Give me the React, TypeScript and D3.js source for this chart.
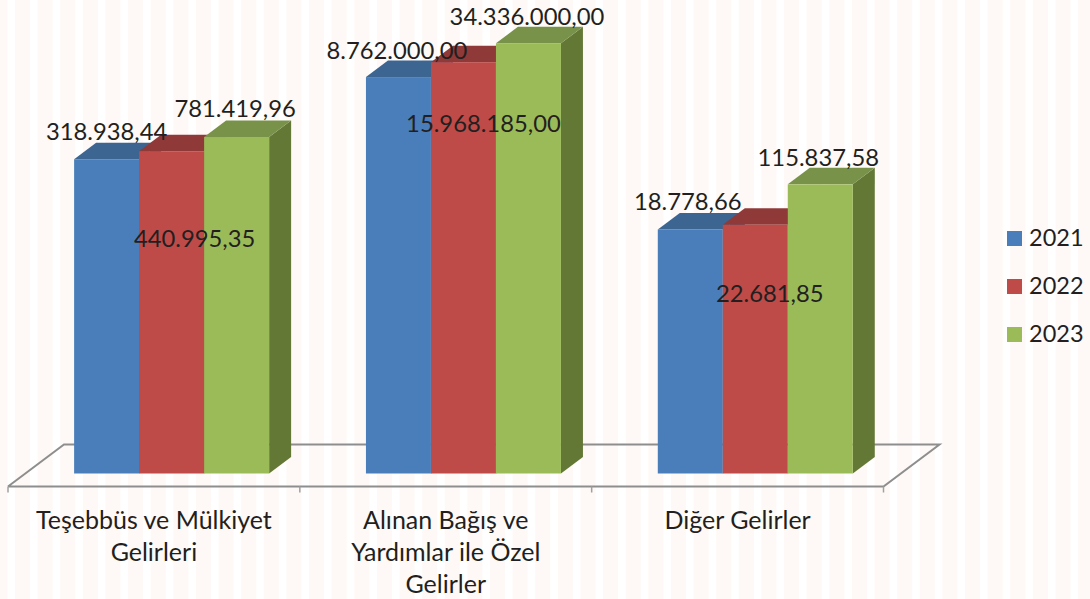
import React from "react";
import * as d3 from "d3";

const categories = [
  ["Teşebbüs ve Mülkiyet", "Gelirleri"],
  ["Alınan Bağış ve", "Yardımlar ile Özel", "Gelirler"],
  ["Diğer Gelirler"],
];
const years = ["2021", "2022", "2023"];
const values2021 = [318938.44, 8762000.0, 18778.66];
const values2022 = [440995.35, 15968185.0, 22681.85];
const values2023 = [781419.96, 34336000.0, 115837.58];
const series = [values2021, values2022, values2023];

const frontColor = ["#4a7ebb", "#be4b48", "#9bbb59"];
const topColor = ["#3c6591", "#8f3a38", "#78924a"];
const sideColor = ["#345a85", "#843432", "#647836"];

// labels were moved by hand in the original: offset from bar centre / bar top
const labelDx = [
  [0, -1.5, -2.5],
  [23, 20, 14.5],
  [-1.5, -1.5, -2],
];
const labelDy = [
  [-19.5, -18, -19.5],
  [96, 70, 77],
  [-19.6, -18, -18.6],
];

const width = 1090;
const height = 599;
const depthX = 22;
const depthY = 16.5;
const floorY = 486.5;
const floorDepthX = 56;
const floorDepthY = 42;
const barBase = 473.5;
const barW = 65;
const font = "Lato, Carlito, sans-serif";

const trFormat = d3.formatLocale({
  decimal: ",",
  thousands: ".",
  grouping: [3],
  currency: ["", " TL"],
}).format(",.2f");

const x = d3
  .scaleBand<number>()
  .domain(categories.map((_, i) => i))
  .range([8, 883.5]);
const inner = d3
  .scaleBand<number>()
  .domain(years.map((_, i) => i))
  .range([-barW * 1.5, barW * 1.5]);
const y = d3
  .scaleLog()
  .domain([1, 1e8])
  .range([barBase, barBase - 8 * 57.1]);

const poly = d3.line();

const App = () => {
  const stripes = d3.range(7.4, width, 22.62);
  const ticks = d3.range(categories.length + 1).map((i) => 8 + i * x.step());

  return (
    <svg
      width={width}
      height={height}
      style={{ position: "absolute", left: 0, top: 0, display: "block" }}
      fontFamily={font}
    >
      <rect width={width} height={height} fill="#fef9f6" />
      {stripes.map((s) => (
        <rect key={s} x={s} y={0} width={7.6} height={height} fill="#ffffff" />
      ))}

      {/* floor */}
      <path
        d={poly([
          [ticks[0], floorY],
          [ticks[0] + floorDepthX, floorY - floorDepthY],
          [ticks[3] + floorDepthX, floorY - floorDepthY],
          [ticks[3], floorY],
          [ticks[0], floorY],
        ])!}
        fill="none"
        stroke="#8e8e8e"
        strokeWidth={2}
      />
      {ticks.map((t) => (
        <line key={t} x1={t} x2={t} y1={floorY} y2={floorY + 6} stroke="#a0a0a0" strokeWidth={1.5} />
      ))}

      {/* bars */}
      {categories.map((_, c) => {
        const cx = x(c)! + x.bandwidth() / 2 + 17.7;
        return (
          <g key={c}>
            {series.map((vals, s) => {
              const x0 = cx + inner(s)!;
              const x1 = x0 + barW;
              const top = y(vals[c]);
              return (
                <g key={s}>
                  <path
                    d={poly([
                      [x1, barBase],
                      [x1 + depthX, barBase - depthY],
                      [x1 + depthX, top - depthY],
                      [x1, top],
                    ])!}
                    fill={sideColor[s]}
                  />
                  <path
                    d={poly([
                      [x0, top],
                      [x0 + depthX, top - depthY],
                      [x1 + depthX, top - depthY],
                      [x1, top],
                    ])!}
                    fill={topColor[s]}
                  />
                  <rect x={x0} y={top} width={barW} height={barBase - top} fill={frontColor[s]} />
                </g>
              );
            })}
          </g>
        );
      })}

      {/* data labels on top of all bars */}
      {categories.map((_, c) => {
        const cx = x(c)! + x.bandwidth() / 2 + 17.7;
        return series.map((vals, s) => (
          <text
            key={`${c}-${s}`}
            x={cx + inner(s)! + barW / 2 + labelDx[s][c]}
            y={y(vals[c]) + labelDy[s][c]}
            textAnchor="middle"
            fontSize={23.8}
            fill="#231f20"
          >
            {trFormat(vals[c])}
          </text>
        ));
      })}

      {/* category labels */}
      {categories.map((lines, c) => (
        <text key={c} textAnchor="middle" fontSize={25} fill="#231f20">
          {lines.map((l, i) => (
            <tspan key={i} x={x(c)! + x.bandwidth() / 2} y={528.5 + i * 32}>
              {l}
            </tspan>
          ))}
        </text>
      ))}

      {/* legend */}
      {years.map((yr, i) => (
        <g key={yr} transform={`translate(1007, ${231 + i * 48})`}>
          <rect width={15} height={15} fill={frontColor[i]} />
          <text x={22} y={15} fontSize={23.5} fill="#231f20">
            {yr}
          </text>
        </g>
      ))}
    </svg>
  );
};

export default App;
